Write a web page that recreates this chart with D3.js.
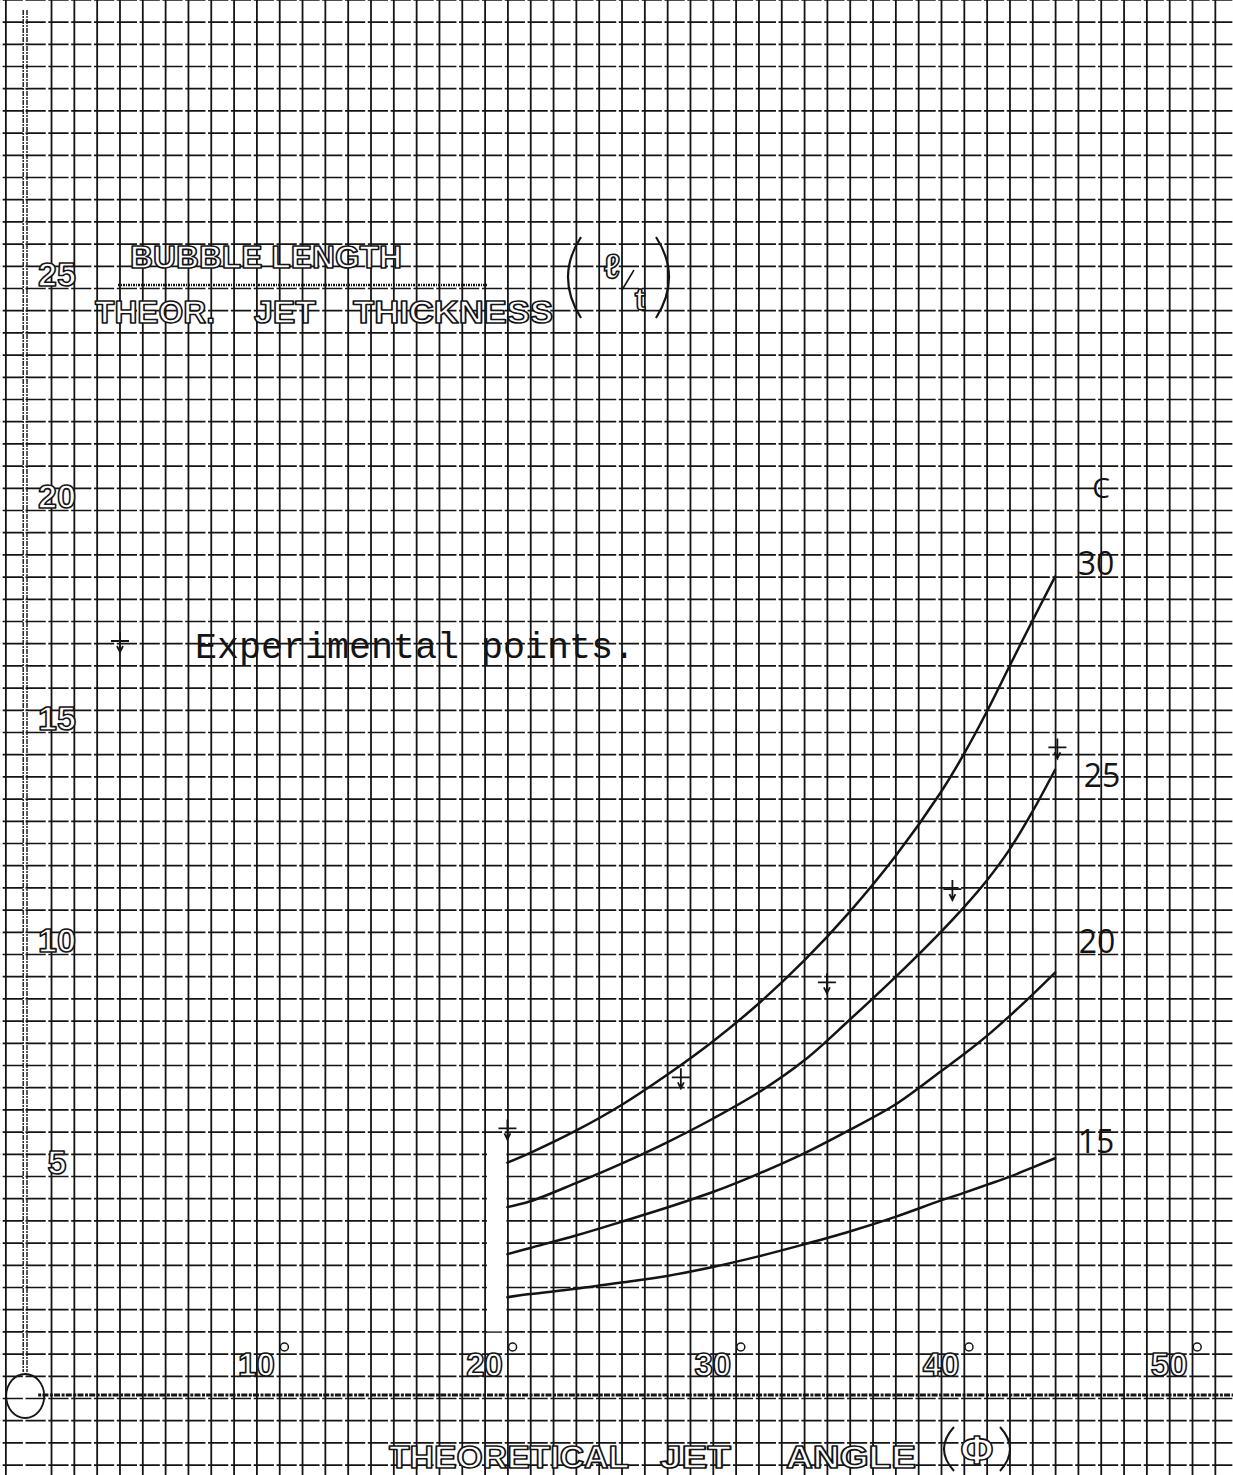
<!DOCTYPE html>
<html><head><meta charset="utf-8">
<script src="https://cdn.jsdelivr.net/npm/d3@7"></script>
<style>html,body{margin:0;padding:0;background:#fff;} svg{display:block;}</style>
</head><body>
<script>
// ---------- data ----------
const angles = [21, 22, 24, 26, 28, 30, 32, 34, 36, 38, 40, 41, 42, 43, 44, 45];
const c15 = [2.27, 2.34, 2.46, 2.60, 2.75, 2.95, 3.19, 3.46, 3.75, 4.08, 4.45, 4.62, 4.80, 4.98, 5.19, 5.40];
const c20 = [3.24, 3.38, 3.66, 3.97, 4.29, 4.64, 5.05, 5.51, 6.04, 6.61, 7.36, 7.74, 8.15, 8.60, 9.08, 9.58];
const c25 = [4.30, 4.43, 4.84, 5.28, 5.76, 6.29, 6.88, 7.60, 8.52, 9.48, 10.50, 11.05, 11.65, 12.35, 13.20, 14.15];
const c30 = [5.30, 5.52, 6.02, 6.60, 7.28, 8.03, 8.88, 9.85, 10.95, 12.20, 13.65, 14.50, 15.45, 16.48, 17.50, 18.50];
const cLabels = ["15", "20", "25", "30"];
const expAngle = [21.0, 28.6, 35.0, 40.5, 45.1];
const expRatio = [6.05, 7.20, 9.34, 11.44, 14.63];
const xTickLabels = [10, 20, 30, 40, 50];
const yTickLabels = [5, 10, 15, 20, 25];

// ---------- layout ----------
const W = 1233, H = 1475;
const x = d3.scaleLinear().domain([0, 50]).range([28.2, 1169.2]);
const y = d3.scaleLinear().domain([0, 25]).range([1398, 288]);
const cell = x(1) - x(0);

const svg = d3.select("body").append("svg").attr("width", W).attr("height", H)
  .style("background", "#fff");

const ink = "#141414";
const stencil = sel => sel.attr("fill", "#fff").attr("stroke", ink).attr("stroke-width", 1.6)
  .attr("stroke-linejoin", "round")
  .attr("font-family", "Liberation Sans, Arial, sans-serif").attr("font-weight", "bold");

// ---------- grid paper ----------
const gridY = d3.range(-3, 64).map(k => k * 0.5);
const gH = svg.append("g").call(d3.axisLeft(y).tickValues(gridY).tickSize(-W).tickFormat(""));
gH.select(".domain").remove();
const gapCentre = (x(-1) - 4 + W * cell) % cell;
gH.selectAll("line").attr("stroke", ink).attr("stroke-width", 1.7)
  .attr("stroke-dasharray", `${cell - 2.6},2.6`)
  .attr("stroke-dashoffset", (cell - 1.3 - gapCentre + cell) % cell);

// scan artefact: blank strip left of the curves
svg.append("rect").attr("x", x(20.1)).attr("y", y(5.6)).attr("width", x(21) - x(20.1) - 1)
  .attr("height", y(1.5) - y(5.6)).attr("fill", "#fff");

const gridX = d3.range(-1, 53).filter(k => k !== 0);
const gV = svg.append("g").attr("transform", `translate(0,${H})`)
  .call(d3.axisBottom(x).tickValues(gridX).tickSize(-H).tickFormat(""));
gV.select(".domain").remove();
gV.selectAll("line").attr("stroke", ink).attr("stroke-width", 1.8);

// ---------- axes ----------
const x0 = x(0);
[x0 - 5, x0 - 1.2].forEach(xx => {
  svg.append("line").attr("x1", xx).attr("x2", xx).attr("y1", 10).attr("y2", y(0) - 26)
    .attr("stroke", ink).attr("stroke-width", 1.4).attr("stroke-dasharray", "5,1,2,1");
});
svg.append("line").attr("x1", x0 + 10).attr("x2", W).attr("y1", y(0) - 3).attr("y2", y(0) - 3)
  .attr("stroke", ink).attr("stroke-width", 3.2).attr("stroke-dasharray", "3,1.2,6,1.5");
svg.append("ellipse").attr("cx", x0 - 3).attr("cy", y(0) - 2).attr("rx", 19).attr("ry", 22)
  .attr("fill", "none").attr("stroke", ink).attr("stroke-width", 1.8);

// y tick labels
svg.append("g").selectAll("text").data(yTickLabels).join("text")
  .attr("x", 57).attr("y", d => y(d) - 2).attr("text-anchor", "middle")
  .attr("font-size", 34).text(d => d).call(stencil);

// x tick labels
const xl = svg.append("g");
xl.selectAll("text").data(xTickLabels).join("text")
  .attr("x", d => x(d)).attr("y", y(0) - 22).attr("text-anchor", "middle")
  .attr("font-size", 33).text(d => d).call(stencil);
xl.selectAll("circle").data(xTickLabels).join("circle")
  .attr("cx", d => x(d) + 28).attr("cy", y(0) - 51).attr("r", 4)
  .attr("fill", "#fff").attr("stroke", ink).attr("stroke-width", 1.5);

// x axis title
const xt = svg.append("g");
[["THEORETICAL", 389, 240], ["JET", 660, 71], ["ANGLE", 786, 130]].forEach(([t, xx, len]) => {
  xt.append("text").attr("x", xx).attr("y", 1468).attr("font-size", 31)
    .attr("textLength", len).attr("lengthAdjust", "spacingAndGlyphs").text(t).call(stencil);
});
xt.append("path").attr("d", "M954,1427 Q934,1449 954,1471").attr("fill", "none").attr("stroke", ink).attr("stroke-width", 2);
xt.append("path").attr("d", "M1000,1427 Q1020,1449 1000,1471").attr("fill", "none").attr("stroke", ink).attr("stroke-width", 2);
xt.append("text").attr("x", 977).attr("y", 1464).attr("text-anchor", "middle").attr("font-size", 40)
  .text("Φ").call(stencil);

// y axis title
const yt = svg.append("g");
yt.append("text").attr("x", 130).attr("y", 268).attr("font-size", 31)
  .attr("textLength", 272).attr("lengthAdjust", "spacingAndGlyphs").text("BUBBLE LENGTH").call(stencil);
svg.append("line").attr("x1", 118).attr("x2", 487).attr("y1", 285).attr("y2", 285)
  .attr("stroke", ink).attr("stroke-width", 2.4).attr("stroke-dasharray", "2,1,1,1");
[["THEOR.", 95, 120], ["JET", 254, 62], ["THICKNESS", 353, 200]].forEach(([t, xx, len]) => {
  yt.append("text").attr("x", xx).attr("y", 323).attr("font-size", 31)
    .attr("textLength", len).attr("lengthAdjust", "spacingAndGlyphs").text(t).call(stencil);
});
yt.append("path").attr("d", "M581,237 Q555,277 581,318").attr("fill", "none").attr("stroke", ink).attr("stroke-width", 2.2);
yt.append("path").attr("d", "M656,237 Q682,277 656,318").attr("fill", "none").attr("stroke", ink).attr("stroke-width", 2.2);
yt.append("text").attr("x", 612).attr("y", 278).attr("text-anchor", "middle").attr("font-size", 34).text("ℓ").call(stencil);
yt.append("line").attr("x1", 622).attr("x2", 634).attr("y1", 290).attr("y2", 270).attr("stroke", ink).attr("stroke-width", 1.5);
yt.append("text").attr("x", 640).attr("y", 310).attr("text-anchor", "middle").attr("font-size", 32).text("t").call(stencil);

// ---------- curves ----------
const series = [c15, c20, c25, c30];
const line = d3.line().x(d => x(d[0])).y(d => y(d[1])).curve(d3.curveCatmullRom.alpha(0.5));
svg.append("g").selectAll("path").data(series).join("path")
  .attr("d", s => line(angles.map((a, i) => [a, s[i]])))
  .attr("fill", "none").attr("stroke", ink).attr("stroke-width", 2.5).attr("stroke-linecap", "round");

// curve labels (handwritten)
const labelPos = [[x(45) + 41, 1153], [x(45) + 42, 953], [x(45) + 47, 787], [x(45) + 41, 575]];
const hand = sel => sel.attr("font-family", "Open Sans, DejaVu Sans, sans-serif").attr("font-weight", 400).attr("fill", ink);
svg.append("g").selectAll("text").data(cLabels).join("text")
  .attr("x", (d, i) => labelPos[i][0]).attr("y", (d, i) => labelPos[i][1])
  .attr("text-anchor", "middle").attr("font-size", 32).text(d => d).call(hand);
svg.append("text").attr("x", 1101).attr("y", 498).attr("text-anchor", "middle")
  .attr("font-size", 28).text("C").call(hand);

// ---------- experimental points ----------
const marker = "M-9,-1H9M0,-10V11M-3,4L0,10L3,4";
svg.append("g").selectAll("path").data(expAngle).join("path")
  .attr("transform", (d, i) => `translate(${x(d)},${y(expRatio[i])})`)
  .attr("d", marker).attr("fill", "none").attr("stroke", ink).attr("stroke-width", 1.8);

// legend
svg.append("path").attr("transform", "translate(120,642)").attr("d", marker)
  .attr("fill", "none").attr("stroke", ink).attr("stroke-width", 1.8);
svg.append("text").attr("x", 195).attr("y", 658).attr("font-size", 37)
  .attr("font-family", "Liberation Mono, Courier New, monospace").attr("fill", ink)
  .attr("textLength", 440).attr("lengthAdjust", "spacingAndGlyphs").text("Experimental points.");
</script>
</body></html>
